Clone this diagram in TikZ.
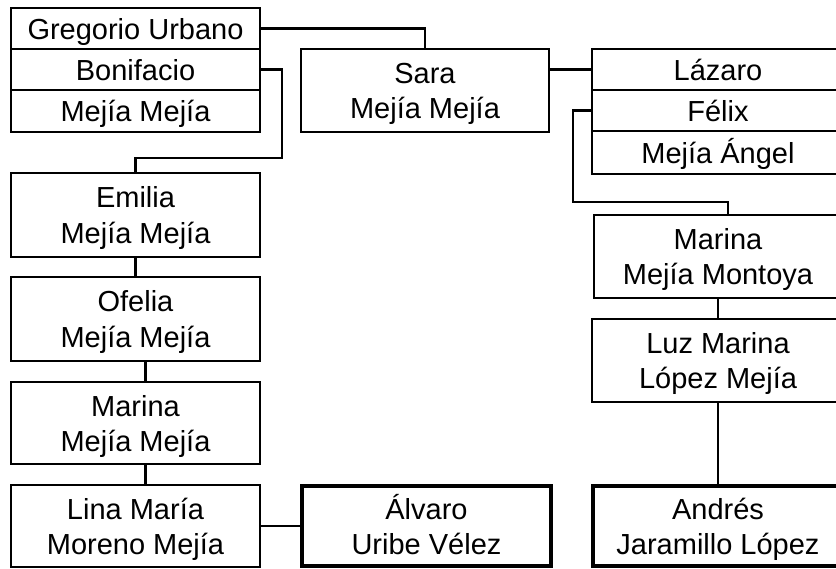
\documentclass[tikz,border=0pt]{standalone}
\usepackage{fontspec}
\setmainfont{Liberation Sans}
\begin{document}
\begin{tikzpicture}[x=1pt,y=-1pt,
  box/.style={draw, line width=2.2pt, inner sep=0pt, align=center,
    font=\fontsize{29}{35.5}\selectfont, text depth=0pt, text height=57pt},
  one/.style={text height=22pt},
  heavy/.style={box, line width=4.5pt},
  sz/.style 2 args={minimum width=#1pt, minimum height=#2pt},
  link/.style={line width=2.2pt}]
\useasboundingbox (0,0) rectangle (836,569);
% left top stack
\node[box, one, sz={249}{41}] (gu) at (135.5,28.5) {Gregorio Urbano};
\node[box, one, sz={249}{41}] (bo) at (135.5,69.5) {Bonifacio};
\node[box, one, sz={249}{42}] (mm) at (135.5,111) {Mejía Mejía};
% Sara
\node[box, sz={248}{83}] (sa) at (425,90.5) {Sara\\Mejía Mejía};
% right top stack
\node[box, one, sz={252}{41}] (la) at (718,69.5) {Lázaro};
\node[box, one, sz={252}{41}] (fe) at (718,110.5) {Félix};
\node[box, one, sz={252}{43}] (ma2) at (718,152.5) {Mejía Ángel};
% left column
\node[box, sz={249}{84}] (em) at (135.5,215) {Emilia\\Mejía Mejía};
\node[box, sz={249}{84}] (of) at (135.5,319) {Ofelia\\Mejía Mejía};
\node[box, sz={249}{82}] (mar) at (135.5,423) {Marina\\Mejía Mejía};
\node[box, sz={249}{82}] (li) at (135.5,526) {Lina María\\Moreno Mejía};
\node[heavy, sz={249}{80}] (al) at (426.5,526) {Álvaro\\Uribe Vélez};
% right column
\node[box, sz={248}{83}] (mmo) at (718,256.5) {Marina\\Mejía Montoya};
\node[box, sz={252}{83}] (lu) at (718,360.5) {Luz Marina\\López Mejía};
\node[heavy, sz={250}{80}] (an) at (718,526) {Andrés\\Jaramillo López};
% connectors
\coordinate (k1) at (282,158);
\coordinate (k2) at (573,202);
\coordinate (k3) at (728,215);
\draw[link] (gu.east) -| (sa.north);
\draw[link] (la.west) -- (la.west -| sa.east);
\draw[link] (bo.east) -| (k1) -| (em.north);
\draw[link] (fe.west) -| (k2) -| (k3);
\draw[link] (em.south) -- (of.north);
\draw[link] ([xshift=10pt]of.south) -- ([xshift=10pt]mar.north);
\draw[link] ([xshift=10pt]mar.south) -- ([xshift=10pt]li.north);
\draw[link] (li.east) -- (al.west);
\draw[link] (mmo.south) -- (lu.north);
\draw[link] (lu.south) -- (an.north);
\end{tikzpicture}
\end{document}
